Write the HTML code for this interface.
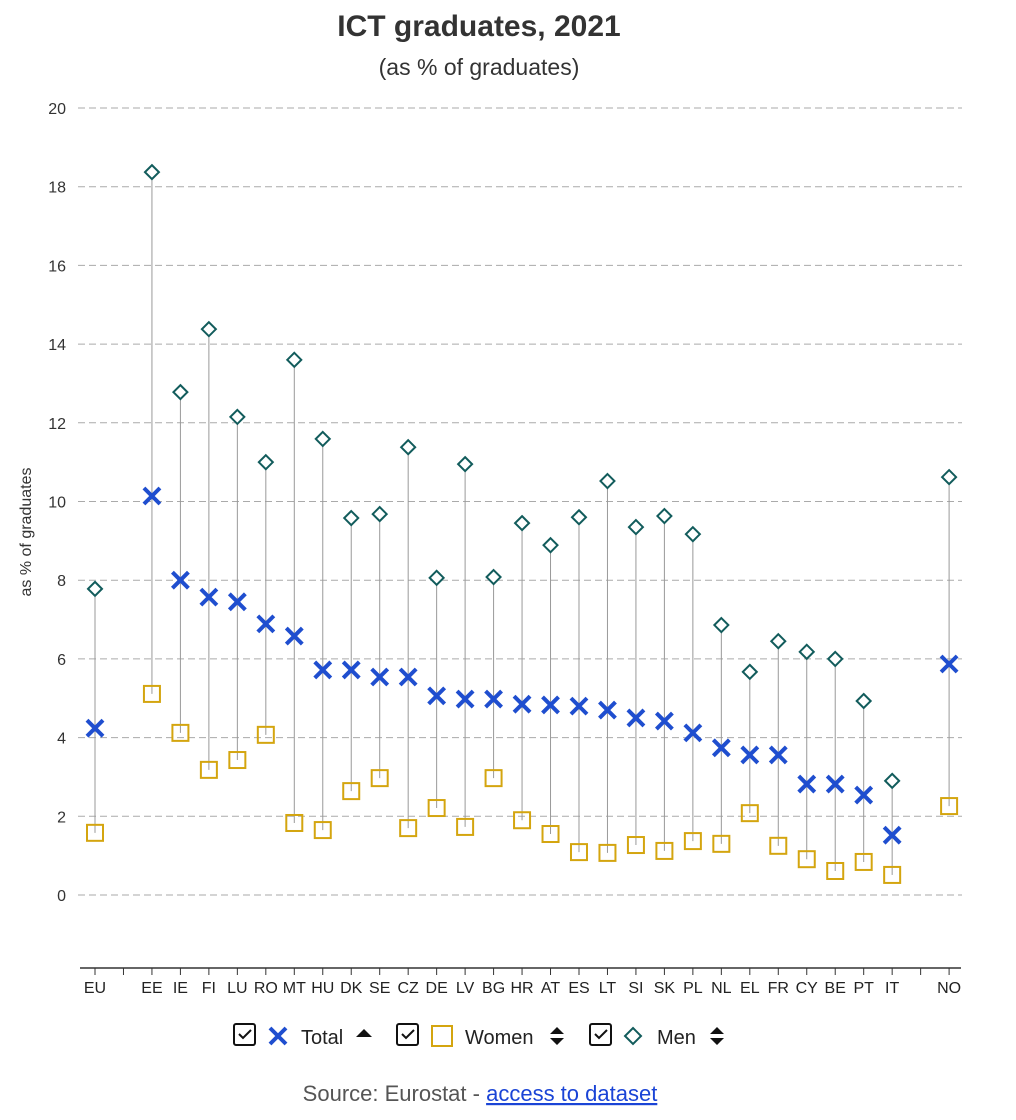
<!DOCTYPE html>
<html><head><meta charset="utf-8"><style>
body{margin:0;background:#fff;font-family:"Liberation Sans",sans-serif;}
svg{display:block}
</style></head><body>
<svg id="c" width="1016" height="1120">
<text x="479" y="36" text-anchor="middle" font-size="30" font-weight="bold" fill="#333">ICT graduates, 2021</text>
<text x="479" y="75" text-anchor="middle" font-size="23" fill="#333">(as % of graduates)</text>
<text transform="translate(31,532) rotate(-90)" text-anchor="middle" font-size="16" fill="#333">as % of graduates</text>
<g id="grid"></g><g id="marks"></g>
<line x1="80" y1="968" x2="961" y2="968" stroke="#333" stroke-width="1.5"/>
<g font-size="20" fill="#222">
<g>
<rect x="234" y="1024" width="21" height="21" rx="2" fill="none" stroke="#111" stroke-width="2"/><path d="M239 1034l4 4 8-8" fill="none" stroke="#111" stroke-width="2"/>
<path d="M270 1028l16 16M286 1028l-16 16" stroke="#1f4ecf" stroke-width="4"/>
<text x="301" y="1044">Total</text><path d="M356 1037l8-8 8 8z" fill="#111"/></g>
<g>
<rect x="397" y="1024" width="21" height="21" rx="2" fill="none" stroke="#111" stroke-width="2"/><path d="M402 1034l4 4 8-8" fill="none" stroke="#111" stroke-width="2"/>
<rect x="432" y="1026" width="20" height="20" fill="none" stroke="#d4a50f" stroke-width="2"/>
<text x="465" y="1044">Women</text><path d="M550 1034l7-7 7 7zM550 1038l7 7 7-7z" fill="#111"/></g>
<g>
<rect x="590" y="1024" width="21" height="21" rx="2" fill="none" stroke="#111" stroke-width="2"/><path d="M595 1034l4 4 8-8" fill="none" stroke="#111" stroke-width="2"/>
<path d="M633 1028l8 8-8 8-8-8z" fill="none" stroke="#125c5c" stroke-width="2"/>
<text x="657" y="1044">Men</text><path d="M710 1034l7-7 7 7zM710 1038l7 7 7-7z" fill="#111"/></g>
</g>
<text x="480" y="1101" text-anchor="middle" font-size="22" fill="#555">Source: Eurostat - <tspan fill="#1a44d6" text-decoration="underline">access to dataset</tspan></text>
</svg>
<script>
const categories=["EU",null,"EE","IE","FI","LU","RO","MT","HU","DK","SE","CZ","DE","LV","BG","HR","AT","ES","LT","SI","SK","PL","NL","EL","FR","CY","BE","PT","IT",null,"NO"];
const totalVals=[4.24,null,10.14,8.0,7.57,7.45,6.89,6.58,5.72,5.72,5.54,5.54,5.06,4.98,4.98,4.85,4.83,4.8,4.7,4.5,4.42,4.12,3.74,3.56,3.56,2.82,2.82,2.54,1.52,null,5.87];
const womenVals=[1.58,null,5.11,4.12,3.18,3.43,4.07,1.83,1.65,2.64,2.97,1.7,2.21,1.73,2.97,1.9,1.55,1.09,1.07,1.27,1.12,1.37,1.3,2.08,1.25,0.91,0.61,0.84,0.51,null,2.26];
const menVals=[7.78,null,18.37,12.78,14.38,12.15,11.0,13.6,11.59,9.58,9.68,11.38,8.06,10.95,8.08,9.45,8.89,9.6,10.52,9.35,9.63,9.17,6.86,5.67,6.45,6.18,6.0,4.93,2.9,null,10.62];
const yTicks=[0,2,4,6,8,10,12,14,16,18,20];
const NS="http://www.w3.org/2000/svg";
const y=v=>895-v*39.35;
const x=i=>95+i*28.47;
function mk(t,a,p){const e=document.createElementNS(NS,t);for(const k in a)e.setAttribute(k,a[k]);p.appendChild(e);return e;}
const grid=document.getElementById('grid'),marks=document.getElementById('marks'),svg=document.getElementById('c');
yTicks.forEach(v=>{
 const l=mk('line',{x1:78,x2:962,y1:y(v),y2:y(v),stroke:'#aaa','stroke-dasharray':'7,4'},grid);
 
 
 const t=mk('text',{x:66,y:y(v)+6,'text-anchor':'end','font-size':16,fill:'#333'},grid);
 t.textContent=v;
 
 
});
categories.forEach((c,i)=>{
 const cx=x(i);
 const tk=mk('line',{x1:cx,x2:cx,y1:968,y2:975,stroke:'#333'},svg);
 
 
 if(c===null)return;
 const t=mk('text',{x:cx,y:993,'text-anchor':'middle','font-size':16,fill:'#222'},svg);
 t.textContent=c;
 
 
 const g=mk('g',{},marks);
 
 
 mk('line',{x1:cx,x2:cx,y1:y(menVals[i]),y2:y(womenVals[i]),stroke:'#999','stroke-width':1},g);
 const ym=y(menVals[i]);
 const m=mk('path',{d:`M${cx} ${ym-7}l7 7-7 7-7-7z`,fill:'#fff',stroke:'#125c5c','stroke-width':2},g);
 
 
 const yw=y(womenVals[i]);
 const w=mk('rect',{x:cx-8,y:yw-8,width:16,height:16,fill:'none',stroke:'#d4a50f','stroke-width':2},g);
 
 
 const yt=y(totalVals[i]);
 const tm=mk('path',{d:`M${cx-8} ${yt-8}l16 16M${cx+8} ${yt-8}l-16 16`,stroke:'#1f4ecf','stroke-width':4},g);
 
 
});
</script>
</body></html>
